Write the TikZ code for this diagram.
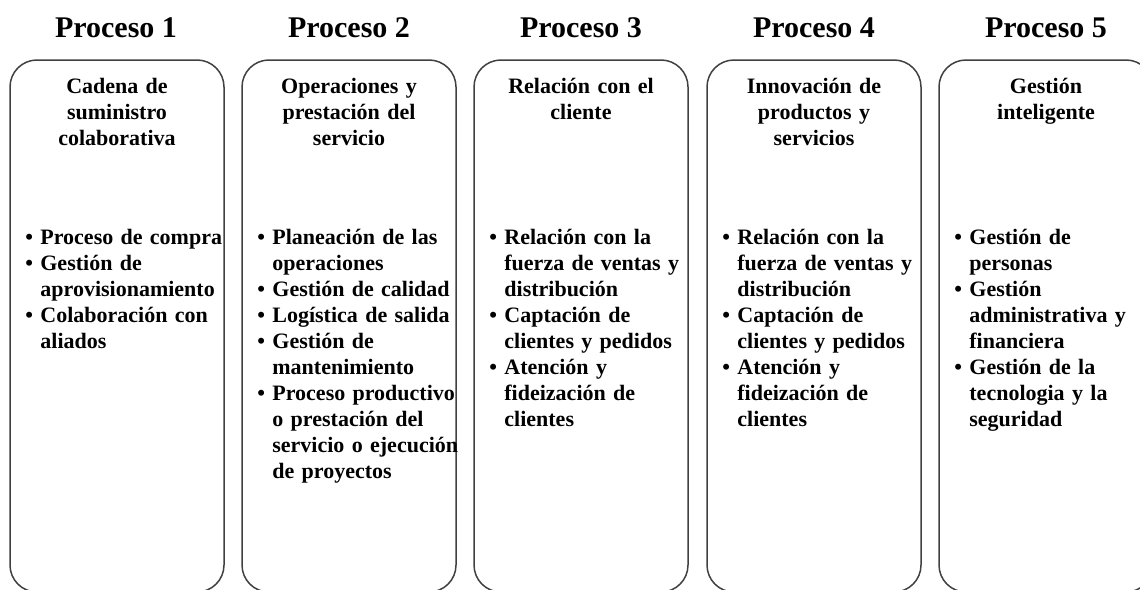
\documentclass[tikz,border=0pt]{standalone}
\usepackage{fontspec}
\setmainfont{Liberation Serif}
\definecolor{borde}{HTML}{404040}
\newcommand{\itm}{\par\hangindent=7.5pt\hangafter=1\noindent\makebox[7.5pt][l]{\textbullet}}

\begin{document}
\begin{tikzpicture}[x=0.5pt,y=-0.5pt,
        caja/.style={draw=borde, line width=0.75pt, rounded corners=13.5pt},
        titulo/.style={anchor=base, inner sep=0pt, font=\fontsize{15}{18}\selectfont\bfseries},
        cabecera/.style={anchor=north, inner sep=0pt, align=center, text width=105pt, font=\fontsize{11}{13}\selectfont\bfseries},
        lista/.style={anchor=north west, inner sep=0pt, align=left, text width=118pt, font=\fontsize{11}{13}\selectfont\bfseries}]
        \useasboundingbox (0,0) rectangle (1140,589);
        \clip (0,0) rectangle (1140,589);
        % columnas
        \draw[caja] (10,60) rectangle (224,592);
        \draw[caja] (242,60) rectangle (456,592);
        \draw[caja] (474,60) rectangle (688,592);
        \draw[caja] (707,60) rectangle (921,592);
        \draw[caja] (939,60) rectangle (1153,592);
        % titulos
        \node[titulo] (t1) at (116,37) {Proceso 1};
        \node[titulo] (t2) at (349,37) {Proceso 2};
        \node[titulo] (t3) at (581,37) {Proceso 3};
        \node[titulo] (t4) at (814,37) {Proceso 4};
        \node[titulo] (t5) at (1046,37) {Proceso 5};
        % cabeceras
        \node[cabecera] (c1) at (117,78) {Cadena de\\ suministro\\ colaborativa};
        \node[cabecera] (c2) at (349,78) {Operaciones y\\ prestación del\\ servicio};
        \node[cabecera] (c3) at (581,78) {Relación con el\\ cliente};
        \node[cabecera] (c4) at (814,78) {Innovación de\\ productos y\\ servicios};
        \node[cabecera] (c5) at (1046,78) {Gestión\\ inteligente};
        % listas
        \node[lista] (l1) at (25,218) {\itm Proceso de compra
            \itm Gestión de\newline aprovisionamiento
            \itm Colaboración con\newline aliados\par};
        \node[lista] (l2) at (257,218) {\itm Planeación de las\newline operaciones
            \itm Gestión de calidad
            \itm Logística de salida
            \itm Gestión de\newline mantenimiento
            \itm Proceso productivo\newline o prestación del\newline servicio o ejecución\newline de proyectos\par};
        \node[lista] (l3) at (489,218) {\itm Relación con la\newline fuerza de ventas y\newline distribución
            \itm Captación de\newline clientes y pedidos
            \itm Atención y\newline fideización de\newline clientes\par};
        \node[lista] (l4) at (722,218) {\itm Relación con la\newline fuerza de ventas y\newline distribución
            \itm Captación de\newline clientes y pedidos
            \itm Atención y\newline fideización de\newline clientes\par};
        \node[lista] (l5) at (954,218) {\itm Gestión de\newline personas
            \itm Gestión\newline administrativa y\newline financiera
            \itm Gestión de la\newline tecnologia y la\newline seguridad\par};
    \end{tikzpicture}
\end{document}
